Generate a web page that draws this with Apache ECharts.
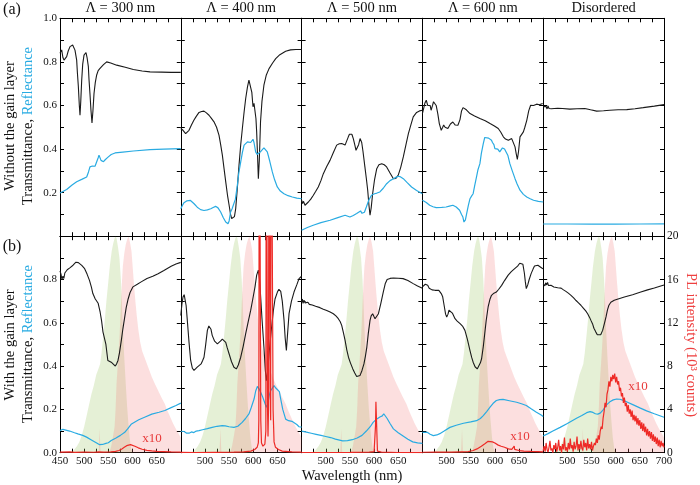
<!DOCTYPE html>
<html><head><meta charset="utf-8">
<script src="https://cdn.jsdelivr.net/npm/echarts/dist/echarts.min.js"></script>
<style>html,body{margin:0;padding:0;background:#fff}#c{width:700px;height:485px}</style>
</head><body><div id="c"></div>
<script>
// ---------- panel labels ----------
const panelTitles = ['Λ = 300 nm', 'Λ = 400 nm', 'Λ = 500 nm', 'Λ = 600 nm', 'Disordered'];

// ---------- (a) without gain layer: transmittance / reflectance ----------
const a1T = [[450,0.84],[453.5,0.855],[456,0.82],[458.3,0.808],[461,0.815],[463.8,0.824],[467,0.85],[470.7,0.87],[476.2,0.877],[479,0.87],[481,0.854],[484.5,0.808],[486,0.75],[488,0.686],[490,0.6],[491.4,0.555],[493,0.62],[494.9,0.716],[497,0.79],[499.7,0.831],[503.8,0.843],[506,0.82],[508.7,0.778],[510,0.72],[512,0.655],[514,0.58],[516.2,0.52],[518,0.57],[520.4,0.655],[523,0.705],[525.9,0.74],[529,0.76],[532.8,0.77],[540,0.787],[546.6,0.8],[555,0.795],[567.3,0.785],[585,0.775],[601.8,0.765],[620,0.758],[636.3,0.754],[660,0.753],[680,0.752],[700,0.752]];
const a1R = [[450,0.198],[463.8,0.214],[475,0.235],[484.5,0.25],[496,0.262],[505.2,0.272],[509,0.295],[512,0.318],[517,0.322],[522.5,0.321],[526,0.33],[529,0.36],[530.7,0.372],[532.5,0.365],[534.9,0.348],[537,0.34],[540,0.342],[544,0.352],[550,0.364],[556,0.375],[563.9,0.382],[580,0.386],[601.8,0.391],[636.3,0.397],[665,0.4],[700,0.402]];
const a2T = [[450,0.494],[452,0.50],[454.6,0.486],[457,0.48],[460,0.471],[463,0.48],[467,0.486],[472,0.51],[477,0.532],[482,0.55],[487.7,0.568],[493,0.572],[498,0.574],[503,0.566],[508.4,0.555],[513,0.542],[518.7,0.525],[524,0.5],[529,0.464],[532.5,0.42],[536,0.372],[539.5,0.31],[543,0.249],[546.5,0.19],[550,0.142],[553,0.1],[555.3,0.081],[558.8,0.077],[561,0.09],[563.6,0.126],[567,0.22],[570.5,0.326],[574,0.42],[577.4,0.494],[581,0.57],[584.3,0.632],[588,0.685],[591,0.716],[593,0.718],[594.6,0.709],[597,0.66],[599.4,0.594],[601.5,0.61],[603.5,0.609],[605.5,0.54],[607,0.479],[609,0.36],[610.5,0.264],[612.5,0.35],[615,0.525],[618,0.62],[622,0.693],[627,0.74],[632.6,0.769],[640,0.795],[646.4,0.815],[655,0.833],[667,0.849],[677,0.855],[688,0.857],[700,0.857]];
const a2R = [[450,0.126],[453,0.14],[456.6,0.154],[462,0.162],[470,0.164],[477,0.15],[484,0.133],[491,0.122],[498,0.118],[505,0.121],[512,0.126],[517,0.132],[522,0.137],[527,0.13],[532.5,0.111],[538,0.085],[543,0.065],[547.7,0.057],[550,0.07],[553,0.111],[556,0.125],[560,0.133],[563,0.17],[567,0.233],[570,0.29],[574,0.341],[577.5,0.385],[581,0.418],[588,0.433],[594.6,0.43],[597,0.437],[599.4,0.445],[601.5,0.43],[604.9,0.387],[608,0.375],[611.8,0.372],[616,0.39],[622,0.405],[625,0.4],[629,0.387],[634,0.345],[639.4,0.295],[644,0.26],[649.7,0.226],[656,0.207],[663.5,0.195],[672,0.186],[680.8,0.18],[690,0.175],[700,0.172]];
const a3T = [[450,0.165],[452,0.15],[454,0.16],[457,0.142],[460,0.15],[464,0.157],[469,0.17],[474,0.187],[479,0.205],[484.5,0.226],[490,0.255],[495,0.287],[502,0.32],[508.8,0.348],[516,0.385],[522.6,0.418],[528,0.424],[533,0.425],[537,0.42],[540,0.418],[543,0.435],[546.7,0.456],[549,0.468],[551.6,0.474],[554,0.468],[557,0.448],[560,0.42],[562.6,0.394],[565,0.387],[568,0.42],[571,0.448],[574.4,0.43],[577,0.39],[581,0.318],[584,0.265],[586.8,0.211],[589.5,0.14],[591.6,0.096],[594,0.13],[597,0.195],[601,0.26],[605.5,0.31],[610,0.328],[615.8,0.333],[621,0.328],[626,0.318],[633,0.29],[640,0.264],[645,0.265],[650,0.28],[655,0.315],[660.5,0.364],[666,0.42],[671,0.471],[676,0.51],[681,0.548],[688,0.568],[694,0.575],[700,0.578]];
const a3R = [[450,0.027],[462,0.04],[474,0.05],[490,0.062],[509,0.073],[525,0.085],[540,0.096],[550,0.088],[557,0.095],[564,0.104],[568,0.11],[572,0.116],[575,0.105],[577.5,0.096],[580,0.11],[584,0.134],[589,0.165],[594.6,0.188],[601,0.195],[606,0.198],[612,0.203],[619,0.22],[626,0.241],[633,0.255],[640,0.264],[645,0.27],[650,0.275],[655,0.272],[660.5,0.264],[668,0.247],[677.6,0.226],[688,0.21],[700,0.195]];
const a4T = [[450,0.563],[453,0.59],[455,0.61],[458,0.624],[461,0.6],[463,0.595],[466,0.6],[468,0.578],[471,0.6],[473,0.617],[476,0.612],[478.5,0.6],[482,0.56],[485,0.517],[489,0.486],[492,0.5],[494,0.51],[497,0.5],[502.7,0.494],[508,0.515],[513,0.524],[518,0.51],[521,0.505],[523.5,0.509],[527.8,0.535],[531,0.575],[534,0.59],[536,0.594],[541,0.58],[548.5,0.563],[558,0.552],[569,0.54],[580,0.53],[590,0.517],[599,0.506],[607,0.494],[612,0.478],[617.5,0.456],[622,0.446],[627.9,0.44],[631,0.444],[634.8,0.448],[638,0.44],[641.7,0.41],[644,0.38],[646.5,0.352],[649,0.39],[652,0.456],[659,0.479],[662,0.5],[666,0.532],[670,0.575],[674,0.601],[680,0.6],[686.4,0.606],[692,0.603],[698.8,0.609],[700,0.608]];
const a4R = [[450,0.165],[458,0.155],[465,0.142],[472,0.135],[478.5,0.131],[490,0.132],[499,0.134],[506,0.138],[513,0.142],[520,0.134],[527,0.119],[531,0.1],[533.8,0.088],[536,0.065],[539,0.075],[541.6,0.104],[545,0.14],[548.5,0.172],[552,0.185],[555,0.195],[558,0.23],[562,0.272],[565,0.305],[569,0.333],[572,0.38],[576,0.425],[579,0.453],[583,0.452],[587,0.45],[590,0.452],[593,0.44],[595,0.43],[598,0.42],[600,0.402],[603,0.41],[606,0.4],[610,0.387],[613,0.395],[615.7,0.405],[620,0.4],[624,0.395],[627,0.37],[631,0.333],[636,0.3],[641.7,0.264],[646,0.24],[652,0.211],[659,0.192],[666,0.18],[673,0.172],[680,0.165],[690,0.16],[700,0.157]];
const a5T = [[450,0.594],[452,0.6],[454,0.586],[456,0.596],[458,0.584],[460,0.598],[462,0.586],[464,0.594],[467,0.585],[470,0.592],[473,0.586],[476,0.59],[480,0.587],[490,0.586],[505,0.583],[520,0.585],[536,0.586],[548,0.58],[560.6,0.574],[575,0.576],[588,0.578],[605,0.58],[623,0.581],[640,0.585],[657,0.59],[680,0.597],[700,0.604]];
const a5R = [[450,0.056],[500,0.056],[550,0.055],[600,0.055],[650,0.056],[700,0.057]];

// ---------- (b) with gain layer ----------
const b1T = [[450,0.84],[452,0.825],[454,0.80],[456,0.815],[458,0.805],[460,0.83],[462,0.825],[465,0.845],[468,0.84],[471,0.855],[474,0.852],[477,0.866],[480,0.87],[483,0.88],[485,0.885],[488,0.878],[491,0.872],[495,0.865],[501,0.85],[506,0.825],[511,0.796],[515,0.765],[518,0.735],[523,0.71],[529,0.69],[533,0.65],[536,0.61],[539,0.557],[542.5,0.55],[545,0.5],[549,0.426],[552,0.42],[556,0.418],[560,0.41],[564.5,0.40],[567,0.41],[570,0.426],[573,0.46],[577,0.52],[580,0.57],[584,0.627],[587,0.67],[591,0.71],[595,0.74],[601,0.766],[610,0.778],[618,0.789],[630,0.805],[642,0.815],[653,0.827],[665,0.842],[680,0.861],[690,0.872],[700,0.879]];
const b1R = [[450,0.102],[456,0.108],[460,0.11],[470,0.1],[480,0.092],[487,0.087],[497,0.08],[505,0.072],[515,0.059],[525,0.046],[532,0.037],[538,0.038],[545,0.043],[550,0.046],[556,0.056],[565,0.067],[575,0.08],[584,0.094],[590,0.11],[598,0.133],[605,0.142],[613,0.152],[625,0.164],[640,0.178],[655,0.187],[667,0.195],[680,0.208],[690,0.218],[700,0.229]];
const b1PL = [[450,0.05],[470,0.08],[480,0.03],[500,0.06],[520,0.04],[530,0.08],[540,0.05],[555,0.08],[565,0.12],[572,0.2],[578,0.35],[583,0.5],[588,0.65],[592,0.72],[596,0.74],[600,0.7],[605,0.6],[612,0.45],[620,0.32],[630,0.22],[640,0.16],[650,0.12],[665,0.1],[680,0.08],[700,0.06]];
const b2T = [[450,0.634],[452.5,0.69],[454.6,0.719],[457,0.73],[458.8,0.727],[461,0.68],[463.5,0.611],[467,0.51],[470.4,0.426],[474,0.39],[477.3,0.38],[481,0.385],[484,0.395],[487.7,0.403],[492,0.41],[495,0.425],[498,0.441],[501,0.49],[505,0.565],[508,0.585],[510,0.588],[512.5,0.57],[515,0.542],[520,0.515],[525.7,0.503],[532,0.515],[536,0.525],[539.5,0.526],[543,0.51],[546,0.485],[549.9,0.457],[555,0.42],[560,0.395],[565,0.387],[569,0.405],[574,0.441],[579,0.49],[584.3,0.55],[589,0.6],[594.6,0.657],[599,0.71],[603.6,0.766],[607,0.82],[610.5,0.843],[613,0.8],[615.3,0.719],[618,0.62],[622,0.488],[625,0.38],[627,0.333],[630,0.38],[632.6,0.457],[637,0.56],[641.6,0.657],[645,0.71],[649.9,0.742],[653,0.755],[656.8,0.745],[660,0.7],[663.7,0.611],[666,0.53],[668.5,0.472],[671,0.55],[674,0.642],[679,0.7],[684.3,0.742],[690,0.775],[694.7,0.804],[700,0.815]];
const b2R = [[450,0.099],[453,0.093],[457,0.098],[462,0.09],[467,0.09],[472,0.096],[477,0.093],[482,0.1],[487.7,0.102],[495,0.106],[505,0.111],[515,0.117],[525,0.122],[535.6,0.125],[542,0.124],[550,0.12],[560,0.117],[568,0.122],[577,0.14],[584,0.158],[591,0.179],[596,0.21],[601.6,0.248],[605,0.285],[608.5,0.306],[612,0.295],[615,0.28],[619,0.26],[623,0.235],[627,0.21],[630,0.225],[633,0.265],[636,0.287],[640,0.3],[643,0.31],[646,0.3],[650,0.292],[654,0.282],[657,0.245],[661,0.2],[667,0.155],[673,0.148],[680,0.145],[684,0.14],[690,0.13],[694.7,0.12],[700,0.118]];
const b2PL = [[450,0.03],[480,0.02],[520,0.03],[560,0.05],[580,0.08],[595,0.15],[603,0.3],[608,0.5],[610.5,0.9],[611.5,3],[612.5,40],[614.5,40],[615.5,3],[617,0.9],[620,0.6],[624,0.8],[626,2],[627,40],[628.5,40],[629.5,4],[630.5,1.5],[631.5,4],[632.5,40],[634,40],[635,6],[636,3],[637,40],[639.5,40],[641,4],[643,1],[646,0.5],[652,0.3],[660,0.15],[680,0.08],[700,0.05]];
const b3T = [[450,0.696],[451.5,0.71],[453,0.69],[455,0.705],[457,0.692],[459,0.7],[461,0.688],[463,0.695],[466,0.685],[469,0.69],[472,0.682],[475,0.684],[479,0.676],[483,0.673],[488,0.67],[495,0.663],[502,0.657],[509,0.65],[515.7,0.642],[521,0.632],[526,0.619],[530,0.605],[533,0.588],[536.5,0.555],[540,0.519],[543.5,0.475],[547,0.441],[551,0.415],[556,0.387],[560,0.368],[564,0.352],[567,0.35],[571,0.357],[575,0.38],[579,0.41],[582,0.445],[585,0.488],[588,0.55],[591.6,0.611],[594,0.632],[597,0.642],[599.5,0.63],[602,0.619],[605,0.628],[609,0.642],[614,0.69],[619,0.742],[623,0.78],[627,0.8],[633,0.805],[640,0.807],[650,0.806],[660,0.804],[670,0.795],[681,0.781],[690,0.77],[700,0.76]];
const b3R = [[450,0.10],[460,0.095],[470,0.09],[480,0.085],[490,0.08],[500,0.075],[510,0.07],[520,0.063],[535,0.055],[545,0.056],[555,0.06],[565,0.068],[575,0.08],[584,0.1],[592,0.12],[598,0.14],[605,0.155],[612,0.165],[617,0.17],[620,0.18],[623,0.175],[627,0.158],[633,0.135],[640,0.11],[650,0.092],[660,0.077],[670,0.062],[680,0.05],[690,0.045],[700,0.043]];
const b3PL = [[450,0.02],[500,0.02],[550,0.03],[590,0.06],[600,0.1],[602,0.2],[603,2.5],[603.8,4.7],[605,4.6],[606,1.5],[607,0.15],[615,0.05],[650,0.02],[700,0.01]];
const b4T = [[450,0.766],[452,0.775],[454,0.76],[456,0.778],[458,0.77],[461,0.773],[464,0.76],[467,0.765],[470,0.752],[472.6,0.747],[476,0.75],[480,0.748],[484,0.75],[486.4,0.747],[489,0.735],[492,0.72],[495,0.68],[498,0.64],[500.3,0.627],[503,0.64],[505,0.658],[508.5,0.665],[512,0.645],[517.5,0.619],[522,0.608],[528,0.596],[533,0.585],[538,0.565],[543,0.525],[548.5,0.472],[552,0.44],[555,0.418],[559,0.397],[563.5,0.387],[567,0.395],[570,0.415],[572.5,0.434],[576,0.49],[579,0.55],[582,0.61],[586,0.673],[590,0.71],[593,0.727],[598,0.737],[603,0.742],[608,0.755],[614,0.773],[620,0.795],[627.5,0.82],[634,0.836],[641,0.85],[647,0.862],[651.5,0.875],[655.5,0.881],[658,0.87],[661,0.83],[663,0.79],[665,0.758],[668,0.775],[671,0.8],[675,0.827],[679,0.848],[682,0.862],[685,0.869],[689,0.866],[693,0.858],[697,0.853],[700,0.85]];
const b4R = [[450,0.094],[460,0.094],[466,0.085],[472.6,0.079],[480,0.082],[486,0.088],[495,0.1],[507,0.117],[520,0.127],[535,0.136],[550,0.142],[562,0.148],[570,0.158],[576,0.171],[583,0.19],[590,0.21],[596,0.227],[603,0.241],[610,0.245],[617,0.246],[630,0.24],[645,0.233],[655,0.226],[665,0.218],[675,0.203],[686,0.187],[695,0.175],[700,0.167]];
const b4PL = [[450,0.04],[480,0.06],[510,0.05],[530,0.08],[545,0.1],[555,0.2],[563,0.35],[572,0.6],[580,0.85],[586,1.05],[590,1.1],[595,1.0],[600,0.9],[607,0.7],[613,0.6],[620,0.5],[628,0.35],[635,0.3],[639,0.35],[640,0.6],[641,0.3],[650,0.2],[660,0.15],[675,0.12],[690,0.1],[700,0.08]];
const b5T = [[450,0.781],[452,0.79],[453.5,0.77],[455,0.785],[457,0.775],[459,0.786],[461,0.772],[463,0.78],[466,0.773],[469,0.776],[472,0.765],[476,0.77],[480,0.762],[484,0.758],[487,0.76],[492,0.752],[497,0.745],[502,0.737],[507.5,0.727],[513,0.715],[518,0.703],[523,0.692],[528,0.681],[533,0.668],[538,0.655],[542,0.642],[546,0.625],[549,0.61],[552,0.596],[555,0.575],[559,0.557],[562,0.545],[566,0.539],[569,0.545],[573,0.565],[577,0.6],[580,0.627],[583,0.66],[586,0.681],[590,0.695],[597,0.704],[605,0.71],[618,0.719],[635,0.73],[652,0.742],[666,0.752],[680,0.761],[690,0.768],[700,0.775]];
const b5R = [[450,0.077],[460,0.088],[470,0.1],[485,0.117],[500,0.135],[519,0.159],[530,0.172],[540,0.185],[547,0.19],[553,0.186],[558,0.18],[563,0.178],[568,0.183],[575,0.2],[581,0.221],[588,0.235],[595,0.244],[602,0.248],[609,0.247],[620,0.238],[636.5,0.221],[650,0.207],[664,0.193],[680,0.18],[690,0.172],[700,0.164]];
const b5PL = [[450,0.2],[452,0.6],[454,0.1],[456,0.9],[458,0.3],[460,0.05],[462,0.5],[464,1.1],[466,0.2],[468,0.4],[470,0.0],[472,0.7],[474,0.3],[476,0.9],[478,0.1],[480,0.5],[482,1.2],[484,0.2],[486,0.6],[488,0.0],[490,0.8],[492,0.3],[494,1.4],[496,0.2],[498,0.5],[500,0.1],[502,0.9],[504,0.3],[506,1.3],[508,0.4],[510,0.7],[512,0.1],[514,1.0],[516,0.3],[518,0.6],[520,1.5],[522,0.2],[524,0.8],[526,0.3],[528,1.1],[530,0.4],[532,0.2],[534,1.2],[536,0.5],[538,0.9],[540,0.2],[542,1.3],[544,0.4],[546,0.8],[548,0.3],[550,1.0],[552,0.2],[554,0.6],[556,0.9],[558,0.7],[560,1.3],[562,0.9],[564,1.6],[566,1.2],[568,2.0],[570,2.4],[572,2.2],[574,3.2],[576,3.8],[578,4.6],[580,4.2],[582,5.4],[584,5.8],[586,6.6],[588,6.1],[590,7.0],[592,6.6],[594,7.2],[596,6.8],[598,7.3],[600,6.5],[602,7.0],[604,6.3],[606,6.6],[608,5.7],[610,6.0],[612,5.2],[614,5.5],[616,4.6],[618,5.1],[620,4.3],[622,4.6],[624,3.8],[626,4.4],[628,3.6],[630,4.0],[632,3.3],[634,3.9],[636,3.0],[638,3.5],[640,2.9],[642,3.4],[644,2.6],[646,3.2],[648,2.5],[650,3.0],[652,2.2],[654,2.8],[656,2.0],[658,2.7],[660,1.9],[662,2.4],[664,1.6],[666,2.2],[668,1.5],[670,2.0],[672,1.3],[674,1.9],[676,1.1],[678,1.7],[680,1.0],[682,1.5],[684,0.8],[686,1.4],[688,0.6],[690,1.2],[692,0.5],[694,1.1],[696,0.6],[698,0.9],[700,0.5]];

// gain-layer absorption (green) and emission (pink), normalised
const absorb = [[450,0],[470,0],[478,0.01],[485,0.03],[490,0.05],[495,0.08],[500,0.12],[505,0.17],[510,0.22],[515,0.27],[520,0.31],[525,0.36],[530,0.39],[533,0.41],[536,0.46],[540,0.55],[543,0.62],[546,0.70],[550,0.79],[553,0.86],[557,0.93],[560,0.965],[563,0.99],[565,1.0],[567,0.99],[570,0.95],[573,0.9],[576,0.8],[578,0.7],[580,0.58],[583,0.44],[586,0.32],[589,0.21],[591,0.15],[594,0.07],[597,0.02],[600,0],[700,0]];
const emission = [[450,0],[530,0],[532,0.11],[534,0],[552,0],[556,0.03],[560,0.08],[563,0.12],[565,0.2],[567,0.32],[570,0.42],[573.5,0.55],[576,0.68],[578,0.78],[580,0.86],[583,0.92],[586,0.96],[589,0.985],[592,1.0],[595,0.97],[598,0.93],[600,0.87],[603,0.78],[606,0.7],[609,0.63],[612,0.57],[616,0.51],[620,0.47],[625,0.44],[630,0.41],[635,0.38],[640,0.35],[646,0.32],[653,0.287],[660,0.255],[667,0.225],[673,0.19],[679,0.16],[684,0.135],[690,0.11],[695,0.09],[700,0.07]];

const topT = [a1T, a2T, a3T, a4T, a5T];
const topR = [a1R, a2R, a3R, a4R, a5R];
const botT = [b1T, b2T, b3T, b4T, b5T];
const botR = [b1R, b2R, b3R, b4R, b5R];
const botPL = [b1PL, b2PL, b3PL, b4PL, b5PL];

// ---------- layout ----------
const FONT = "'Liberation Serif','Times New Roman',serif";
const BLACK = '#1a1a1a', CYAN = '#29abe2', RED = '#ee2a26';
const colL = [60, 180.8, 301.6, 422.4, 543.2];
const colW = 120.8;
const rowsG = [{top: 18.3, h: 217.9}, {top: 236.2, h: 216.5}];

const grids = [], xAxes = [], yAxes = [], series = [];
const tick = () => ({show: true, inside: true, length: 4, lineStyle: {color: '#000', width: 1}});
const minor = () => ({show: true, splitNumber: 2, length: 4, lineStyle: {color: '#000', width: 1}});
const aline = () => ({show: true, onZero: false, lineStyle: {color: '#000', width: 1}});
const lbl = (extra) => Object.assign({fontSize: 11, color: '#111', fontFamily: FONT}, extra);

for (let r = 0; r < 2; r++) {
  for (let c = 0; c < 5; c++) {
    const g = r * 5 + c;
    grids.push({left: colL[c], top: rowsG[r].top, width: colW, height: rowsG[r].h, containLabel: false, outerBoundsMode: 'none'});
    xAxes.push({type: 'value', gridIndex: g, position: 'bottom', min: 450, max: 700, interval: 50,
      axisLine: aline(), axisTick: tick(), minorTick: minor(), splitLine: {show: false},
      axisLabel: r === 1 ? lbl({show: true, margin: 3, formatter: v => ((c > 0 && v === 450) || (c < 4 && v === 700)) ? '' : String(v)}) : {show: false}});
    xAxes.push({type: 'value', gridIndex: g, position: 'top', min: 450, max: 700, interval: 50,
      axisLine: aline(), axisTick: tick(), minorTick: minor(), splitLine: {show: false}, axisLabel: {show: false}});
    yAxes.push({type: 'value', gridIndex: g, position: 'left', min: 0, max: 1, interval: 0.2,
      axisLine: aline(), axisTick: tick(), minorTick: minor(), splitLine: {show: false},
      axisLabel: c === 0 ? lbl({show: true, margin: 3, formatter: v => {
        if (r === 0 && Math.abs(v) < 1e-6) return '';
        if (r === 1 && Math.abs(v - 1) < 1e-6) return '';
        return v.toFixed(1);
      }}) : {show: false}});
    if (r === 0) {
      yAxes.push({type: 'value', gridIndex: g, position: 'right', min: 0, max: 1, interval: 0.2,
        axisLine: aline(), axisTick: tick(), minorTick: minor(), splitLine: {show: false}, axisLabel: {show: false}});
    } else {
      yAxes.push({type: 'value', gridIndex: g, position: 'right', min: 0, max: 20, interval: 4,
        axisLine: aline(), axisTick: tick(), minorTick: minor(), splitLine: {show: false},
        axisLabel: c === 4 ? lbl({show: true, margin: 3, fontSize: 11.5}) : {show: false}});
    }
    const xi = 2 * g, yi = 2 * g;
    const lineS = (data, color, w, z, yIdx) => ({type: 'line', xAxisIndex: xi, yAxisIndex: yIdx === undefined ? yi : yIdx,
      data: data, symbol: 'none', showSymbol: false, smooth: false, clip: true, silent: true, z: z,
      lineStyle: {color: color, width: w}});
    if (r === 0) {
      series.push(lineS(topT[c], BLACK, 1.1, 3));
      series.push(lineS(topR[c], CYAN, 1.2, 3));
    } else {
      series.push({type: 'line', xAxisIndex: xi, yAxisIndex: yi, data: absorb, symbol: 'none', silent: true, z: 1,
        lineStyle: {width: 0, opacity: 0}, areaStyle: {color: 'rgba(150,195,90,0.36)'}});
      series.push({type: 'line', xAxisIndex: xi, yAxisIndex: yi, data: emission, symbol: 'none', silent: true, z: 1,
        lineStyle: {width: 0, opacity: 0}, areaStyle: {color: 'rgba(240,110,110,0.32)'}});
      series.push(lineS(botT[c], BLACK, 1.1, 3));
      series.push(lineS(botR[c], CYAN, 1.2, 3));
      series.push(lineS(botPL[c], RED, 1.2, 4, yi + 1));
    }
  }
}

// ---------- texts ----------
const T = (x, y, text, size, color, extra) => Object.assign({type: 'text', x: x, y: y, silent: true, z: 100,
  style: {text: text, fontSize: size, fontFamily: FONT, fill: color, align: 'center', verticalAlign: 'middle'}}, extra || {});
const texts = [];
panelTitles.forEach((t, i) => texts.push(T(colL[i] + colW / 2, 8.5, t, 14.5, '#111')));
texts.push(T(12, 10, '(a)', 16, '#111'));
texts.push(T(12, 247, '(b)', 16, '#111'));
texts.push(T(10, 126, 'Without the gain layer', 14.5, '#111', {rotation: Math.PI / 2}));
texts.push(T(10, 345, 'With the gain layer', 14.5, '#111', {rotation: Math.PI / 2}));
const richTR = (x, y) => ({type: 'text', x: x, y: y, rotation: Math.PI / 2, silent: true, z: 100,
  style: {text: '{k|Transmittance, }{c|Reflectance}', fontSize: 14.5, fontFamily: FONT, align: 'center', verticalAlign: 'middle',
    rich: {k: {fill: '#111', fontSize: 14.5, fontFamily: FONT}, c: {fill: CYAN, fontSize: 14.5, fontFamily: FONT}}}});
texts.push(richTR(28, 126));
texts.push(richTR(28, 344));
texts.push(T(352, 476, 'Wavelength (nm)', 14.5, '#111'));
texts.push(T(691, 345, 'PL intensity (10³ counts)', 14.5, '#ee4040', {rotation: -Math.PI / 2}));
texts.push(T(152, 439, 'x10', 13, '#e83a3a'));
texts.push(T(520, 437, 'x10', 13, '#e83a3a'));
texts.push(T(638, 387, 'x10', 13, '#e83a3a'));

const chart = echarts.init(document.getElementById('c'), null, {renderer: 'canvas'});
chart.setOption({
  animation: false,
  backgroundColor: '#fff',
  grid: grids, xAxis: xAxes, yAxis: yAxes, series: series,
  graphic: {elements: texts}
});
</script></body></html>
